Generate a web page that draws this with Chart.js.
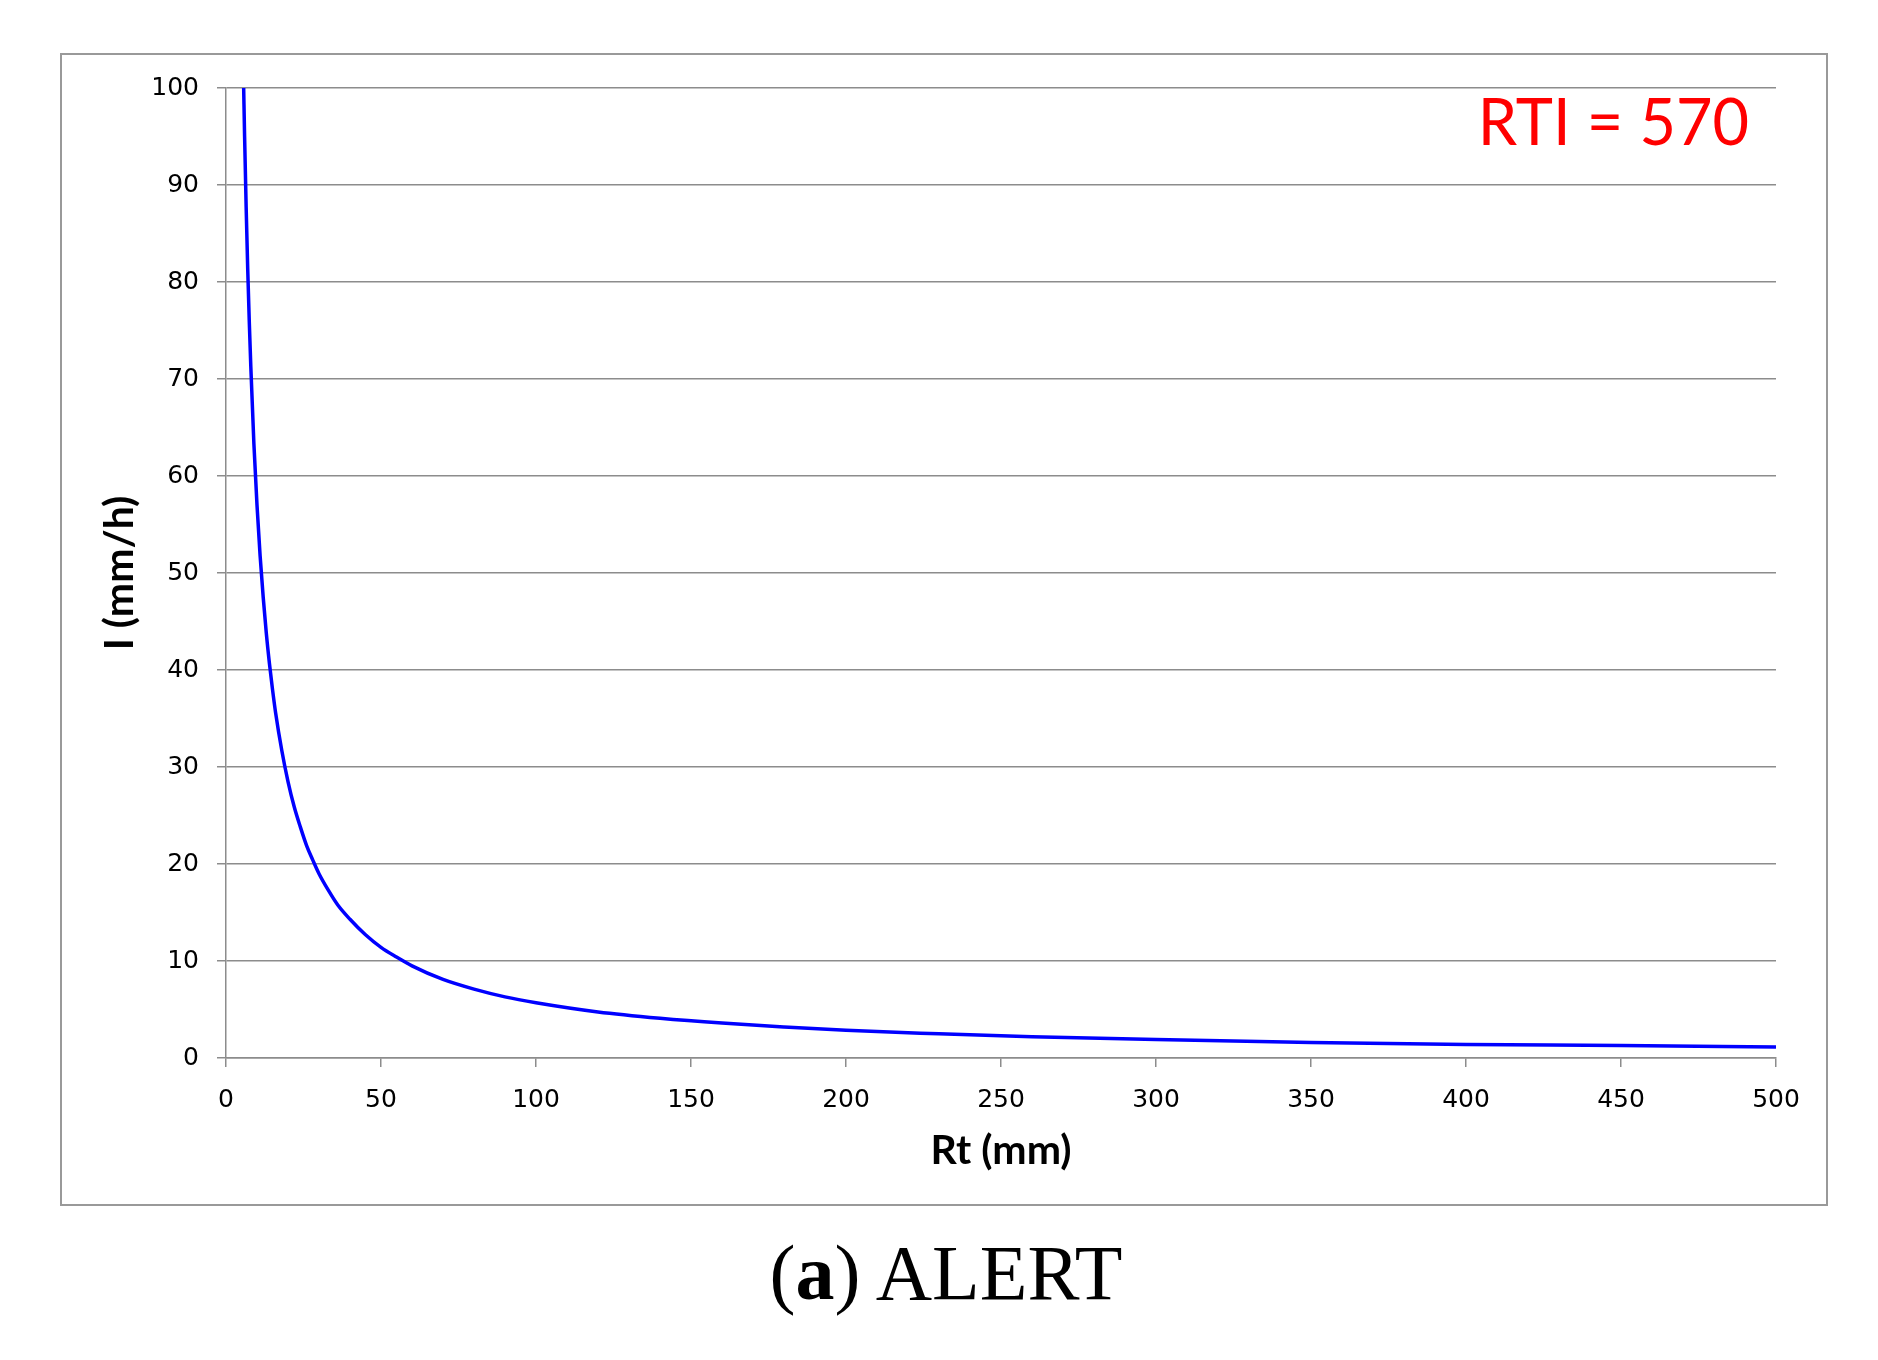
<!DOCTYPE html>
<html>
<head>
<meta charset="utf-8">
<script src="https://cdn.jsdelivr.net/npm/chart.js@4.4.1/dist/chart.umd.min.js"></script>
<style>
  body { margin: 0; background: #fff; width: 1878px; height: 1360px; position: relative; overflow: hidden; }
  #box { position: absolute; left: 60px; top: 53px; width: 1768px; height: 1153px; border: 2px solid #999; box-sizing: border-box; }
  #box canvas { position: absolute; left: 0; top: 0; }
  #rti { position: absolute; right: 129px; top: 86px; font: 63px Lato, sans-serif; transform: scaleY(1.05); transform-origin: right top; line-height: 1; color: #ff0000; white-space: nowrap; }
  #caption { position: absolute; left: 946px; top: 1234px; transform: translateX(-50%); font: 78px "Liberation Serif", serif; line-height: 1; color: #000; white-space: nowrap; }
</style>
</head>
<body>
<div id="box"><canvas id="chart" width="1764" height="1149"></canvas></div>
<div id="rti">RTI = 570</div>
<div id="caption">(<b>a</b>) ALERT</div>
<script>
// Rt (mm) vs I (mm/h)
const rt = [5.7, 6, 6.5, 7, 7.5, 8, 9, 10, 11, 12, 13, 14, 15, 16, 18, 20, 22, 24, 26, 28, 30, 33, 36, 40, 45, 50, 55, 60, 70, 80, 90, 100, 120, 140, 160, 180, 200, 230, 260, 300, 350, 400, 450, 500];
const intensity = [100, 95, 87.7, 81.4, 76, 71.3, 63.3, 57, 51.8, 47.5, 43.8, 40.7, 38, 35.6, 31.7, 28.5, 25.9, 23.8, 21.9, 20.4, 19, 17.3, 15.8, 14.3, 12.7, 11.4, 10.4, 9.5, 8.1, 7.1, 6.3, 5.7, 4.75, 4.1, 3.6, 3.2, 2.85, 2.5, 2.2, 1.9, 1.6, 1.4, 1.3, 1.14];

const xTitle = 'Rt (mm)';
const yTitle = 'I (mm/h)';

const points = rt.map((x, i) => ({ x, y: intensity[i] }));

const gridColor = '#8c8c8c';
const tickFont = { family: 'DejaVu Sans', size: 25 };
const titleFont = { family: 'Lato', size: 41, weight: 'bold' };

new Chart(document.getElementById('chart').getContext('2d'), {
  type: 'scatter',
  data: {
    datasets: [
      {
        data: points,
        showLine: true,
        borderColor: '#0000ff',
        borderWidth: 3.5,
        pointRadius: 0,
        cubicInterpolationMode: 'monotone',
      },
    ],
  },
  options: {
    responsive: false,
    animation: false,
    devicePixelRatio: 1,
    layout: { padding: { top: 27, right: 50, left: 0, bottom: 0 } },
    plugins: {
      legend: { display: false },
      tooltip: { enabled: false },
    },
    scales: {
      x: {
        type: 'linear',
        min: 0,
        max: 500,
        ticks: { stepSize: 50, color: '#000', font: tickFont, padding: 18, maxRotation: 0 },
        grid: { drawOnChartArea: false, drawTicks: true, tickLength: 9, color: gridColor, lineWidth: 1.5 },
        border: { display: true, color: gridColor, width: 1.5 },
        title: { display: true, text: xTitle, color: '#000', font: titleFont, padding: { top: 0, bottom: 29 } },
        afterFit: (scale) => { scale.height = 146; },
      },
      y: {
        type: 'linear',
        min: 0,
        max: 100,
        ticks: { stepSize: 10, color: '#000', font: tickFont, padding: 18 },
        grid: { drawTicks: true, tickLength: 9, color: gridColor, lineWidth: 1.5 },
        border: { display: true, color: gridColor, width: 1.5 },
        title: { display: true, text: yTitle, color: '#000', font: titleFont, padding: { top: 33, bottom: 0 } },
        afterFit: (scale) => { scale.width = 164; },
      },
    },
  },
});
</script>
</body>
</html>
